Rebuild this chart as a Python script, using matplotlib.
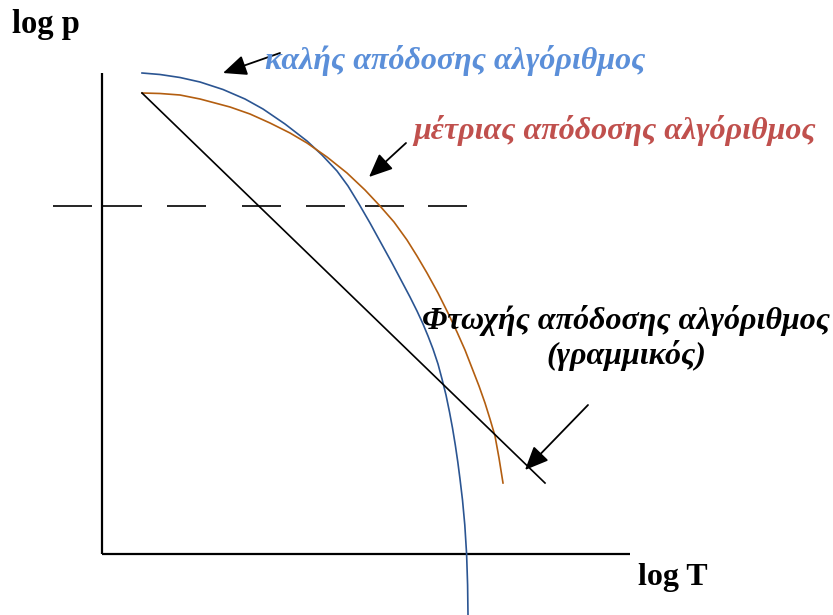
import matplotlib
matplotlib.use("Agg")
import matplotlib.pyplot as plt

# curves, in pixel units (x right, y down)
good_x = [142, 160, 180, 200, 223, 245, 263, 285, 307, 322, 337, 348, 359, 370, 381, 392,
          401, 410, 417, 423, 428, 433, 438, 442, 446, 449.5, 452.5, 455.3, 457.8, 460,
          462.5, 464.8, 466.6, 467.6, 468]
good_y = [73, 74.5, 77.5, 82, 89.5, 99, 109, 124, 141, 155, 171, 186, 204, 223, 243, 263,
          280, 297, 311, 324, 336, 349, 364, 379, 395, 412, 428, 445, 462, 479,
          500, 525, 554, 585, 615]

medium_x = [142, 160, 180, 200, 230, 250, 270, 290, 307, 327, 347, 365, 380, 394, 407, 417,
            427, 438, 448, 457, 465, 472, 479, 485, 490, 495, 499, 503]
medium_y = [93, 93.5, 95, 99, 107, 114, 123, 133, 143, 157, 173, 190, 206, 222, 240, 256,
            273, 293, 313, 332, 350, 368, 386, 403, 419, 436, 458, 483]

poor_x = [142, 545]
poor_y = [93, 483]

# dashed threshold line: start of each dash
dash_starts = [53, 103, 167, 242, 306, 365, 428]
dash_len = 39
threshold_y = 206

# axes of the sketch
origin = (102, 554)
y_axis_top = 73
x_axis_right = 630

# arrows: (tail, head)
arrows = [((280, 53), (223, 73)),
          ((406, 143), (369, 177)),
          ((588, 405), (525, 470))]

labels = ["καλής απόδοσης αλγόριθμος",
          "μέτριας απόδοσης αλγόριθμος",
          "Φτωχής απόδοσης αλγόριθμος",
          "(γραμμικός)"]

SERIF = ["Liberation Serif", "DejaVu Serif"]

fig = plt.figure(figsize=(8.33, 6.15), dpi=100)
ax = fig.add_axes([0, 0, 1, 1])
ax.set_xlim(0, 833)
ax.set_ylim(615, 0)
ax.axis("off")

# axes
ax.plot([origin[0], origin[0]], [y_axis_top, origin[1]], color="black", lw=1.6, solid_capstyle="butt")
ax.plot([origin[0], x_axis_right], [origin[1], origin[1]], color="black", lw=1.6, solid_capstyle="butt")

# threshold
for s in dash_starts:
    ax.plot([s, s + dash_len], [threshold_y, threshold_y], color="black", lw=1.2, solid_capstyle="butt")

# curves
ax.plot(good_x, good_y, color="#2B5592", lw=1.2, solid_joinstyle="round")
ax.plot(medium_x, medium_y, color="#B35E10", lw=1.2, solid_joinstyle="round")
ax.plot(poor_x, poor_y, color="black", lw=1.2)

for tail, head in arrows:
    ax.annotate("", xy=head, xytext=tail,
                arrowprops=dict(arrowstyle="-|>,head_length=0.8,head_width=0.35",
                                color="black", lw=1.3, mutation_scale=18,
                                shrinkA=0, shrinkB=0))

ax.text(12, 33, "log p", family=SERIF, fontweight="bold", fontsize=23.5, va="baseline")
ax.text(638, 585, "log T", family=SERIF, fontweight="bold", fontsize=23, va="baseline")

ax.text(265, 69, labels[0], family=SERIF, fontweight="bold", style="italic",
        fontsize=23, color="#5B8FD9", va="baseline")
ax.text(413, 139, labels[1], family=SERIF, fontweight="bold", style="italic",
        fontsize=23, color="#C0504D", va="baseline")
ax.text(626, 329, labels[2], family=SERIF, fontweight="bold", style="italic",
        fontsize=23, color="black", va="baseline", ha="center")
ax.text(626, 364, labels[3], family=SERIF, fontweight="bold", style="italic",
        fontsize=23, color="black", va="baseline", ha="center")

fig.savefig("out.png", dpi=100)
